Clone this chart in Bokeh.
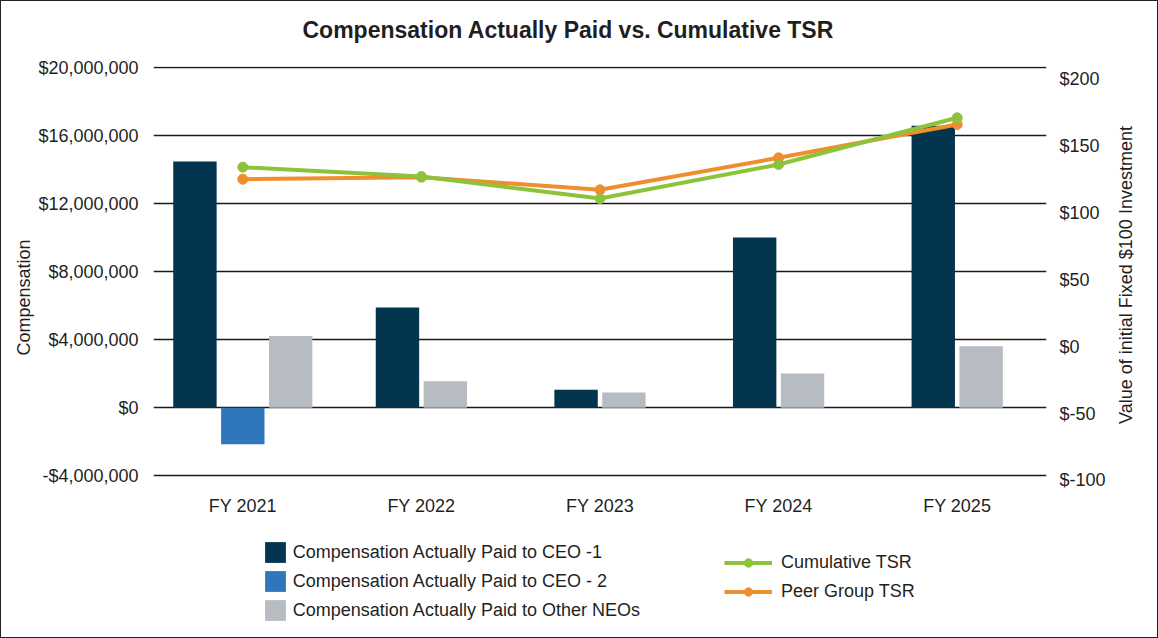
from math import pi
from bokeh.plotting import figure
from bokeh.layouts import column, row
from bokeh.models import (Range1d, LinearAxis, FixedTicker, CustomJSTickFormatter,
                          PrintfTickFormatter, Legend, LegendItem, ColumnDataSource, Title, Label)
from bokeh.embed import file_html
from bokeh.resources import INLINE

# ---------------- data ----------------
years = ["FY 2021", "FY 2022", "FY 2023", "FY 2024", "FY 2025"]
ceo1_cap = [14.49e6, 5.90e6, 1.06e6, 10.02e6, 16.59e6]
ceo2_cap = [-2.14e6, None, None, None, None]
other_neo_cap = [4.23e6, 1.56e6, 0.90e6, 2.02e6, 3.62e6]
cumulative_tsr = [134.0, 127.0, 110.6, 136.0, 170.9]
peer_tsr = [125.0, 126.5, 117.1, 141.0, 165.9]
left_ticks = [-4e6, 0, 4e6, 8e6, 12e6, 16e6, 20e6]
right_ticks = [-100, -50, 0, 50, 100, 150, 200]

chart_title = "Compensation Actually Paid vs. Cumulative TSR"
left_title = "Compensation"
right_title = "Value of initial Fixed $100 Investment"

bar_series = [
    ("Compensation Actually Paid to CEO -1", ceo1_cap, "#04354F"),
    ("Compensation Actually Paid to CEO - 2", ceo2_cap, "#2E77BC"),
    ("Compensation Actually Paid to Other NEOs", other_neo_cap, "#B7BCC3"),
]
line_series = [
    ("Cumulative TSR", cumulative_tsr, "#8DC33B"),
    ("Peer Group TSR", peer_tsr, "#EF8E2E"),
]

FONT = "Liberation Sans"
TXT = "#1f1f1f"
EDGE = "1px solid #222"
BAR_W = 0.243
PITCH = 0.268
W_MAIN = 1112
W_SIDE = 46
H_TOP = 50
H_MAIN = 480
H_LEG = 108
FRAME_L = 152
FRAME_R = 1045
NAN = float("nan")

idx = list(range(len(years)))


def blank(fig):
    fig.outline_line_color = None
    fig.background_fill_color = "white"
    fig.border_fill_color = "white"


# ---------------- title strip ----------------
t = figure(width=W_MAIN, height=H_TOP, output_backend="svg", toolbar_location=None,
           x_range=Range1d(0, 1), y_range=Range1d(0, 1), x_axis_type=None, y_axis_type=None,
           min_border_left=FRAME_L, min_border_right=W_MAIN - FRAME_R,
           min_border_top=0, min_border_bottom=0,
           styles={"border-top": EDGE, "border-left": EDGE})
blank(t)
t.grid.visible = False
t.add_layout(Label(x=301 - FRAME_L, y=H_TOP - 28, x_units="screen", y_units="screen",
                   text=chart_title, text_align="left", text_baseline="middle",
                   text_font=FONT, text_font_size="23px", text_font_style="bold",
                   text_color=TXT))

# ---------------- main chart ----------------
p = figure(width=W_MAIN, height=H_MAIN, output_backend="svg", toolbar_location=None,
           x_range=Range1d(-0.5, len(years) - 0.5), y_range=Range1d(-4.335e6, 20.0765e6),
           min_border_left=FRAME_L, min_border_right=W_MAIN - FRAME_R, min_border_top=16,
           min_border_bottom=49, styles={"border-left": EDGE})
p.extra_y_ranges = {"tsr": Range1d(-100.75, 209.2)}
blank(p)
p.title.text = ""
p.title.standoff = 0
p.title.visible = False

# grid
p.xgrid.visible = False
p.ygrid.ticker = FixedTicker(ticks=left_ticks)
p.ygrid.grid_line_color = "#1a1a1a"
p.ygrid.grid_line_width = 1.4

# x axis
xa = p.xaxis[0]
xa.ticker = FixedTicker(ticks=idx)
xa.major_label_overrides = {i: y for i, y in zip(idx, years)}
xa.axis_line_color = None
xa.major_tick_line_color = None
xa.minor_tick_line_color = None
xa.major_tick_out = 0
xa.major_tick_in = 0
xa.major_label_standoff = 14
xa.major_label_text_font = FONT
xa.major_label_text_font_size = "18px"
xa.major_label_text_color = TXT

# left axis
ya = p.yaxis[0]
ya.ticker = FixedTicker(ticks=left_ticks)
ya.formatter = CustomJSTickFormatter(
    code="const a = Math.abs(tick).toLocaleString('en-US'); return (tick < 0 ? '-$' : '$') + a;")
ya.axis_line_color = None
ya.major_tick_line_color = None
ya.minor_tick_line_color = None
ya.major_tick_out = 0
ya.major_tick_in = 0
ya.major_label_standoff = 15
ya.major_label_text_font = FONT
ya.major_label_text_font_size = "18px"
ya.major_label_text_color = TXT

# left axis title (sits lower than centre, like the reference)
lt = Title(text=left_title, align="left", offset=126, standoff=3,
           text_font=FONT, text_font_size="18px", text_font_style="normal", text_color=TXT)
p.add_layout(lt, "left")

# right axis
ra = LinearAxis(y_range_name="tsr", ticker=FixedTicker(ticks=right_ticks),
                formatter=PrintfTickFormatter(format="$%d"))
ra.axis_line_color = None
ra.major_tick_line_color = None
ra.minor_tick_line_color = None
ra.major_tick_out = 0
ra.major_tick_in = 0
ra.major_label_standoff = 13
ra.major_label_text_font = FONT
ra.major_label_text_font_size = "18px"
ra.major_label_text_color = TXT
p.add_layout(ra, "right")

# bars: per year, the present series are centred around the category
positions = {name: [] for name, _, _ in bar_series}
tops = {name: [] for name, _, _ in bar_series}
for i in idx:
    present = [(name, vals[i]) for name, vals, _ in bar_series if vals[i] is not None]
    n = len(present)
    for k, (name, v) in enumerate(present):
        positions[name].append(i + (k - (n - 1) / 2) * PITCH)
        tops[name].append(v)

for name, vals, color in bar_series:
    src = ColumnDataSource(dict(x=positions[name], top=tops[name]))
    p.vbar(x="x", top="top", bottom=0, width=BAR_W, source=src,
           fill_color=color, line_color=None)

# lines (peer first so cumulative sits on top)
for name, vals, color in reversed(line_series):
    src = ColumnDataSource(dict(x=idx, y=vals))
    p.line(x="x", y="y", source=src, y_range_name="tsr", line_color=color, line_width=4)
    p.scatter(x="x", y="y", source=src, y_range_name="tsr", size=10,
              fill_color=color, line_color=color)

# ---------------- right axis title (narrow side figure, full height) ----------------
H_ALL = H_TOP + H_MAIN + H_LEG
s = figure(width=W_SIDE, height=H_ALL, output_backend="svg", toolbar_location=None,
           x_range=Range1d(0, 1), y_range=Range1d(0, 1), x_axis_type=None, y_axis_type=None,
           min_border_left=0, min_border_right=0, min_border_top=66,
           min_border_bottom=H_ALL - 481,
           styles={"border-top": EDGE, "border-right": EDGE, "border-bottom": EDGE})
blank(s)
s.grid.visible = False
s.add_layout(Label(x=1125.5 - W_MAIN, y=0.5, x_units="screen", y_units="data",
                   text=right_title, angle=pi / 2,
                   text_align="center", text_baseline="middle", text_font=FONT,
                   text_font_size="18px", text_color=TXT))

# ---------------- legend strip ----------------
q = figure(width=W_MAIN, height=H_LEG, output_backend="svg", toolbar_location=None,
           x_range=Range1d(0, 1), y_range=Range1d(0, 1), x_axis_type=None, y_axis_type=None,
           min_border_left=FRAME_L, min_border_right=W_MAIN - FRAME_R,
           min_border_top=0, min_border_bottom=0,
           styles={"border-left": EDGE, "border-bottom": EDGE})
blank(q)
q.grid.visible = False

bar_items = []
for name, _, color in bar_series:
    r = q.vbar(x=[NAN], top=[NAN], width=0.1, fill_color=color, line_color=None)
    bar_items.append(LegendItem(label=name, renderers=[r]))
line_items = []
for name, _, color in line_series:
    lr = q.line(x=[NAN, NAN], y=[NAN, NAN], line_color=color, line_width=4)
    sr = q.scatter(x=[NAN], y=[NAN], size=10, fill_color=color, line_color=color)
    line_items.append(LegendItem(label=name, renderers=[lr, sr]))


def style_legend(leg, gw, gh, spacing):
    leg.orientation = "vertical"
    leg.background_fill_alpha = 0
    leg.border_line_color = None
    leg.padding = 0
    leg.margin = 0
    leg.spacing = spacing
    leg.glyph_width = gw
    leg.glyph_height = gh
    leg.label_height = 21
    leg.label_text_font = FONT
    leg.label_text_font_size = "18px"
    leg.label_text_color = TXT


# the strip's frame starts at x = FRAME_L; location is from the strip's bottom-left
leg1 = Legend(items=bar_items, location=(260.8 - FRAME_L, 14.9))
style_legend(leg1, 26, 26, 3)
leg1.label_standoff = 5
q.add_layout(leg1, "center")

leg2 = Legend(items=line_items, location=(723 - FRAME_L, 36.2))
style_legend(leg2, 48, 21, 8)
leg2.label_standoff = 9
q.add_layout(leg2, "center")

page = row(column(t, p, q, spacing=0), s, spacing=0)

open("out.html", "w").write(file_html(page, INLINE))
